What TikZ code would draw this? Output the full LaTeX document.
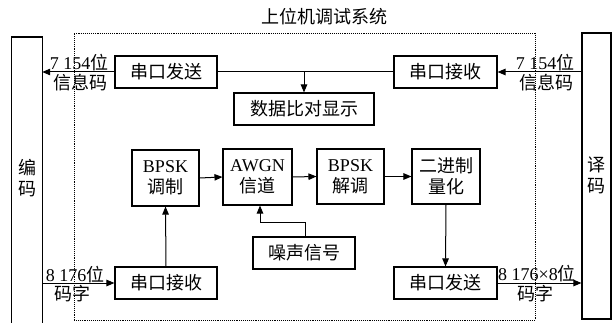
\documentclass[tikz,border=0pt]{standalone}
\usepackage{fontspec}
\setmainfont{Liberation Serif}
\newfontfamily\cjk{Noto Sans CJK SC}
\usetikzlibrary{arrows.meta,calc}
\begin{document}
\begin{tikzpicture}[x=1pt,y=-1pt,
  box/.style={draw, line width=1.1pt, inner sep=0pt, align=center, font=\fontsize{18}{21}\selectfont},
  conn/.style={line width=1pt},
  arr/.style={conn, -{Triangle[length=8pt,width=6.5pt]}},
  lbl/.style={inner sep=0pt, align=center, font=\fontsize{18}{21}\selectfont}]
\useasboundingbox (0,0) rectangle (613,323);
% outer boxes
\node[draw, densely dotted, line width=0.9pt, minimum width=461pt, minimum height=287pt, inner sep=0pt] (sys) at (304.5,176.5) {};
\node[lbl] (title) at (324,17) {\cjk 上位机调试系统};
\node[inner sep=0pt, minimum width=30pt, minimum height=292pt, anchor=north] (encbox) at (27,37) {};
\draw[line width=1.1pt] (encbox.south west) -- (encbox.north west) -- (encbox.north east) -- (encbox.south east);
\node[lbl] (enctext) at (27,178) {{\cjk 编}\\{\cjk 码}};
\node[draw, line width=1.1pt, inner sep=0pt, minimum width=29pt, minimum height=286pt] (decbox) at (596.5,176) {};
\node[lbl] (dectext) at (596,175) {{\cjk 译}\\{\cjk 码}};
% blocks
\node[box, minimum width=102pt, minimum height=32pt] (txA) at (166,72) {\cjk 串口发送};
\node[box, minimum width=103pt, minimum height=32pt] (rxA) at (445.5,72) {\cjk 串口接收};
\node[box, minimum width=140pt, minimum height=32pt] (cmp) at (304,109) {\cjk 数据比对显示};
\node[box, minimum width=67pt, minimum height=56pt] (mod) at (165.5,178) {BPSK\\{\cjk 调制}};
\node[box, minimum width=69pt, minimum height=56pt] (awgn) at (257.5,177) {AWGN\\{\cjk 信道}};
\node[box, minimum width=67pt, minimum height=55pt] (demod) at (350.5,176.5) {BPSK\\{\cjk 解调}};
\node[box, minimum width=68pt, minimum height=55pt] (quant) at (446,176.5) {{\cjk 二进制}\\{\cjk 量化}};
\node[box, minimum width=102pt, minimum height=32pt] (noise) at (304,253) {\cjk 噪声信号};
\node[box, minimum width=102pt, minimum height=32pt] (rxB) at (166,283) {\cjk 串口接收};
\node[box, minimum width=103pt, minimum height=32pt] (txB) at (445.5,283) {\cjk 串口发送};
% connectors
\draw[conn] (rxA.west) -- (txA.east);
\coordinate (jn) at (cmp.north |- rxA.west);
\draw[arr] (jn) -- (cmp.north);
\draw[arr] (txA.west) -- (txA.west -| encbox.east);
\draw[arr] (rxA.east -| decbox.west) -- (rxA.east);
\draw[arr] (mod.east) -- (awgn.west);
\draw[arr] (awgn.east) -- (demod.west);
\draw[arr] (demod.east) -- (quant.west);
\draw[arr] (rxB.north) -- (mod.south);
\coordinate (nz) at ($(noise.north)+(1,-14)$);
\draw[arr] ($(noise.north)+(1,0)$) -- (nz) -| ($(awgn.south)+(2.5,0)$);
\draw[arr] (quant.south) -- (txB.north);
\draw[arr] (rxB.west -| encbox.east) -- (rxB.west);
\draw[arr] (txB.east) -- (txB.east -| decbox.west);
% labels
\node[lbl] (l1) at (79,63) {7 154{\cjk 位}};
\node[lbl] (l2) at (80,83) {\cjk 信息码};
\node[lbl] (r1) at (545,63) {7 154{\cjk 位}};
\node[lbl] (r2) at (546,83) {\cjk 信息码};
\node[lbl] (l3) at (75,275) {8 176{\cjk 位}};
\node[lbl] (l4) at (72,294) {\cjk 码字};
\node[lbl] (r3) at (537,274) {8 176×8{\cjk 位}};
\node[lbl] (r4) at (535,294) {\cjk 码字};
\end{tikzpicture}
\end{document}
